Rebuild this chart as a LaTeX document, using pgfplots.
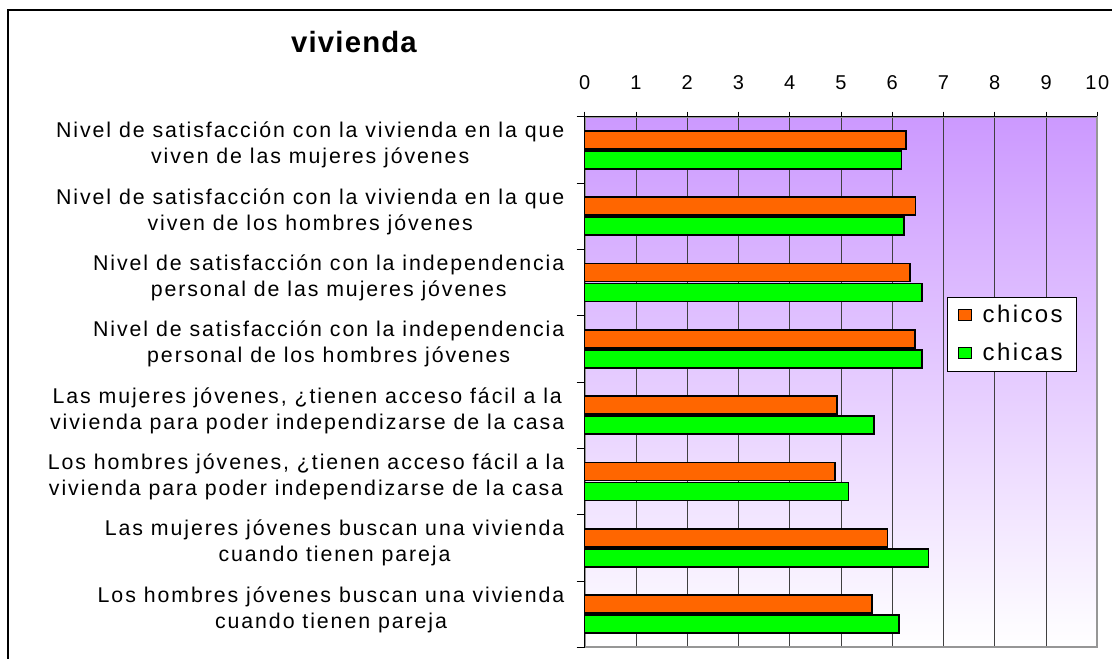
\documentclass[border=0pt]{standalone}
\usepackage{pgfplots}
\pgfplotsset{compat=1.18}
\usepackage{fontspec}
\setmainfont{Liberation Sans}[LetterSpace=9]
\newfontfamily\titlefont{Liberation Sans}[LetterSpace=4]
\newfontfamily\legfont{Liberation Sans}[LetterSpace=10]
\definecolor{barorange}{RGB}{255,102,0}
\definecolor{bargreen}{RGB}{0,255,0}
\definecolor{bgpurple}{RGB}{204,153,255}
\definecolor{framegray}{RGB}{150,150,150}

\begin{document}
\begin{tikzpicture}
\path[use as bounding box] (0,0) rectangle (834pt,-494.25pt);
\draw[line width=1.1pt] (6pt,-494.25pt) -- (6pt,-7.5pt) -- (834pt,-7.5pt);
\node[font=\titlefont\fontsize{22}{26}\selectfont\bfseries] at (265.5pt,-31.5pt) {vivienda};
\begin{axis}[
  at={(438.5pt,-87.5pt)}, anchor=north west, scale only axis,
  width=384.5pt, height=398pt,
  xbar, xmin=0, xmax=10, ymin=-0.5, ymax=7.5, y dir=reverse,
  axis background/.style={top color=bgpurple, bottom color=white},
  axis line style={draw=framegray, line width=1.3pt},
  xtick={0,1,...,10},
  xtick pos=right, xticklabel pos=right,
  xtick align=outside,
  major tick length=3.75pt,
  xmajorgrids, major grid style={black!75, line width=0.6pt},
  xtick style={black, line width=0.6pt},
  xticklabel style={font=\fontsize{15}{17}\selectfont, yshift=13pt},
  /pgf/number format/assume math mode=true,
  ytick={0,...,7},
  ytick pos=left,
  ytick style={draw=none},
  yticklabel style={font=\fontsize{16}{19.5}\selectfont, align=center, yshift=3.5pt, xshift=-8pt},
  yticklabels={
    {Nivel de satisfacción con la vivienda en la que\\viven de las mujeres jóvenes},
    {Nivel de satisfacción con la vivienda en la que\\viven de los hombres jóvenes},
    {Nivel de satisfacción con la independencia\\personal de las mujeres jóvenes},
    {Nivel de satisfacción con la independencia\\personal de los hombres jóvenes},
    {Las mujeres jóvenes, ¿tienen acceso fácil a la\\vivienda para poder independizarse de la casa},
    {Los hombres jóvenes,  ¿tienen acceso fácil a la\\vivienda para poder independizarse de la casa},
    {Las mujeres jóvenes buscan una vivienda\\cuando tienen pareja},
    {Los hombres jóvenes buscan una vivienda\\cuando tienen pareja}},
  extra y ticks={-0.5,0.5,...,7.5},
  extra y tick labels={},
  extra y tick style={ytick style={draw=black, line width=0.6pt}, major tick length=6pt, tick align=outside, grid=none},
  bar width=13.5pt,
  legend style={at={(axis description cs:0.706,0.66)}, anchor=north west,
    draw=black, line width=0.6pt, fill=white, font=\legfont\fontsize{18}{21}\selectfont,
    row sep=10pt, inner xsep=8pt, inner ysep=4pt,
    /tikz/every odd column/.append style={column sep=6pt}},
  legend cell align=left,
  legend image code/.code={\draw[#1, line width=0.8pt] (0pt,-4.25pt) rectangle (10pt,4.25pt);},
  after end axis/.code={\draw[black, line width=0.8pt] (axis description cs:0,0) -- (axis description cs:0,1) -- (axis description cs:1,1);},
]
\addplot[draw=black, line width=1.1pt, fill=barorange, bar shift=7.5pt] coordinates {
  (6.27,0) (6.45,1) (6.35,2) (6.44,3) (4.92,4) (4.88,5) (5.91,6) (5.60,7)};
\addlegendentry{chicos\hspace{6pt}}
\addplot[draw=black, line width=1.1pt, fill=bargreen, bar shift=-7.5pt] coordinates {
  (6.18,0) (6.23,1) (6.58,2) (6.58,3) (5.64,4) (5.15,5) (6.71,6) (6.13,7)};
\addlegendentry{chicas\hspace{6pt}}
\end{axis}
\end{tikzpicture}
\end{document}
